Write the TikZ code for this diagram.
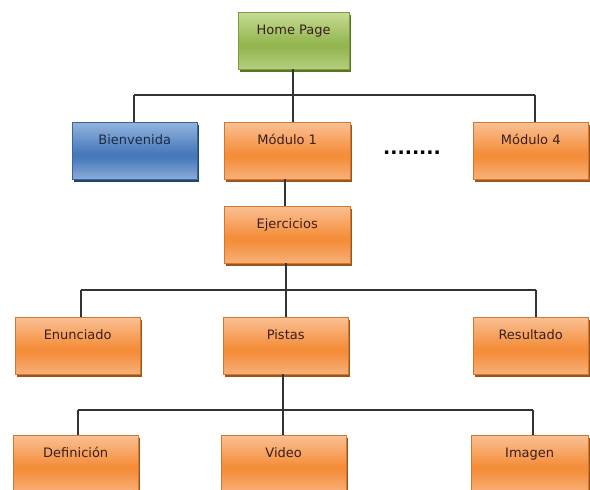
\documentclass[tikz,border=0pt]{standalone}
\usepackage{fontspec}
\setmainfont{DejaVu Sans}
\usetikzlibrary{shadows,calc}
\definecolor{orA}{HTML}{FAC094}
\definecolor{orB}{HTML}{F48E3A}
\definecolor{orC}{HTML}{F8B07A}
\definecolor{orS}{HTML}{A0541C}
\definecolor{grA}{HTML}{C6DC94}
\definecolor{grB}{HTML}{94B650}
\definecolor{grC}{HTML}{B4CF7E}
\definecolor{grS}{HTML}{5A7522}
\definecolor{blA}{HTML}{94B4DE}
\definecolor{blB}{HTML}{4779BA}
\definecolor{blC}{HTML}{8CACD9}
\definecolor{blS}{HTML}{24466E}
\definecolor{txt}{HTML}{3A1E1E}
\definecolor{txtb}{HTML}{1C2A44}
\definecolor{ln}{HTML}{333333}
\pgfdeclareverticalshading{orsh}{100bp}{color(0bp)=(orC); color(25bp)=(orC); color(44bp)=(orB); color(48bp)=(orB); color(75bp)=(orA); color(100bp)=(orA)}
\pgfdeclareverticalshading{grsh}{100bp}{color(0bp)=(grC); color(25bp)=(grC); color(44bp)=(grB); color(48bp)=(grB); color(75bp)=(grA); color(100bp)=(grA)}
\pgfdeclareverticalshading{blsh}{100bp}{color(0bp)=(blC); color(25bp)=(blC); color(44bp)=(blB); color(48bp)=(blB); color(75bp)=(blA); color(100bp)=(blA)}
\tikzset{
  box/.style={rectangle, anchor=north west, minimum height=57pt, inner ysep=0pt, inner xsep=0pt,
     text height=22pt, text depth=35pt, font=\fontsize{13}{15}\selectfont, text=txt, line width=0.4pt},
  orbox/.style={box, shading=orsh, draw=orS!40!orB,
     general shadow={fill=orS, shadow xshift=2pt, shadow yshift=-3pt}},
  grbox/.style={box, shading=grsh, draw=grS!40!grB,
     general shadow={fill=grS, shadow xshift=2pt, shadow yshift=-3pt}},
  blbox/.style={box, shading=blsh, draw=blS!40!blB, text=txtb,
     general shadow={fill=blS, shadow xshift=2pt, shadow yshift=-3pt}},
  conn/.style={draw=ln, line width=1.2pt},
}
\begin{document}
\begin{tikzpicture}[x=1pt,y=-1pt]
\fill[white] (0,0) rectangle (590,490);
\useasboundingbox (0,0) rectangle (590,490);
% level 0
\node[grbox, minimum width=111pt] (home) at (238,12) {Home Page};
% level 1
\node[blbox, minimum width=125pt] (bien) at (72,122) {Bienvenida};
\node[orbox, minimum width=126pt] (mod1) at (224,122) {Módulo 1};
\node[orbox, minimum width=115pt] (mod4) at (473,122) {Módulo 4};
\node[font=\bfseries\fontsize{19}{20}\selectfont, inner sep=0pt, anchor=base] (dots) at (412,154) {........};
% level 2
\node[orbox, minimum width=126pt] (ejer) at (224,206) {Ejercicios};
% level 3
\node[orbox, minimum width=125pt] (enun) at (15,317) {Enunciado};
\node[orbox, minimum width=125pt] (pist) at (223,317) {Pistas};
\node[orbox, minimum width=115pt] (resu) at (473,317) {Resultado};
% level 4
\node[orbox, minimum width=125pt] (defi) at (13,435) {Definición};
\node[orbox, minimum width=125pt] (vide) at (221,435) {Video};
\node[orbox, minimum width=117pt] (imag) at (471,435) {Imagen};
% bus coordinates
\coordinate (b1) at (293,95);
\coordinate (b1l) at (134,95);
\coordinate (b1r) at (535,95);
\coordinate (m1) at (285,0);
\coordinate (b2) at (286,290);
\coordinate (b2l) at (81,290);
\coordinate (b2r) at (536,290);
\coordinate (b3) at (283,410);
\coordinate (b3l) at (78,410);
\coordinate (b3r) at (533,410);
% connectors
\draw[conn] (home.south -| b1) -- (b1);
\draw[conn] (b1l) -- (b1r);
\draw[conn] (b1l) -- (b1l |- bien.north);
\draw[conn] (b1) -- (b1 |- mod1.north);
\draw[conn] (b1r) -- (b1r |- mod4.north);
\draw[conn] (mod1.south -| m1) -- (ejer.north -| m1);
\draw[conn] (ejer.south -| b2) -- (b2);
\draw[conn] (b2l) -- (b2r);
\draw[conn] (b2l) -- (b2l |- enun.north);
\draw[conn] (b2) -- (b2 |- pist.north);
\draw[conn] (b2r) -- (b2r |- resu.north);
\draw[conn] (pist.south -| b3) -- (b3);
\draw[conn] (b3l) -- (b3r);
\draw[conn] (b3l) -- (b3l |- defi.north);
\draw[conn] (b3) -- (b3 |- vide.north);
\draw[conn] (b3r) -- (b3r |- imag.north);
\end{tikzpicture}
\end{document}
